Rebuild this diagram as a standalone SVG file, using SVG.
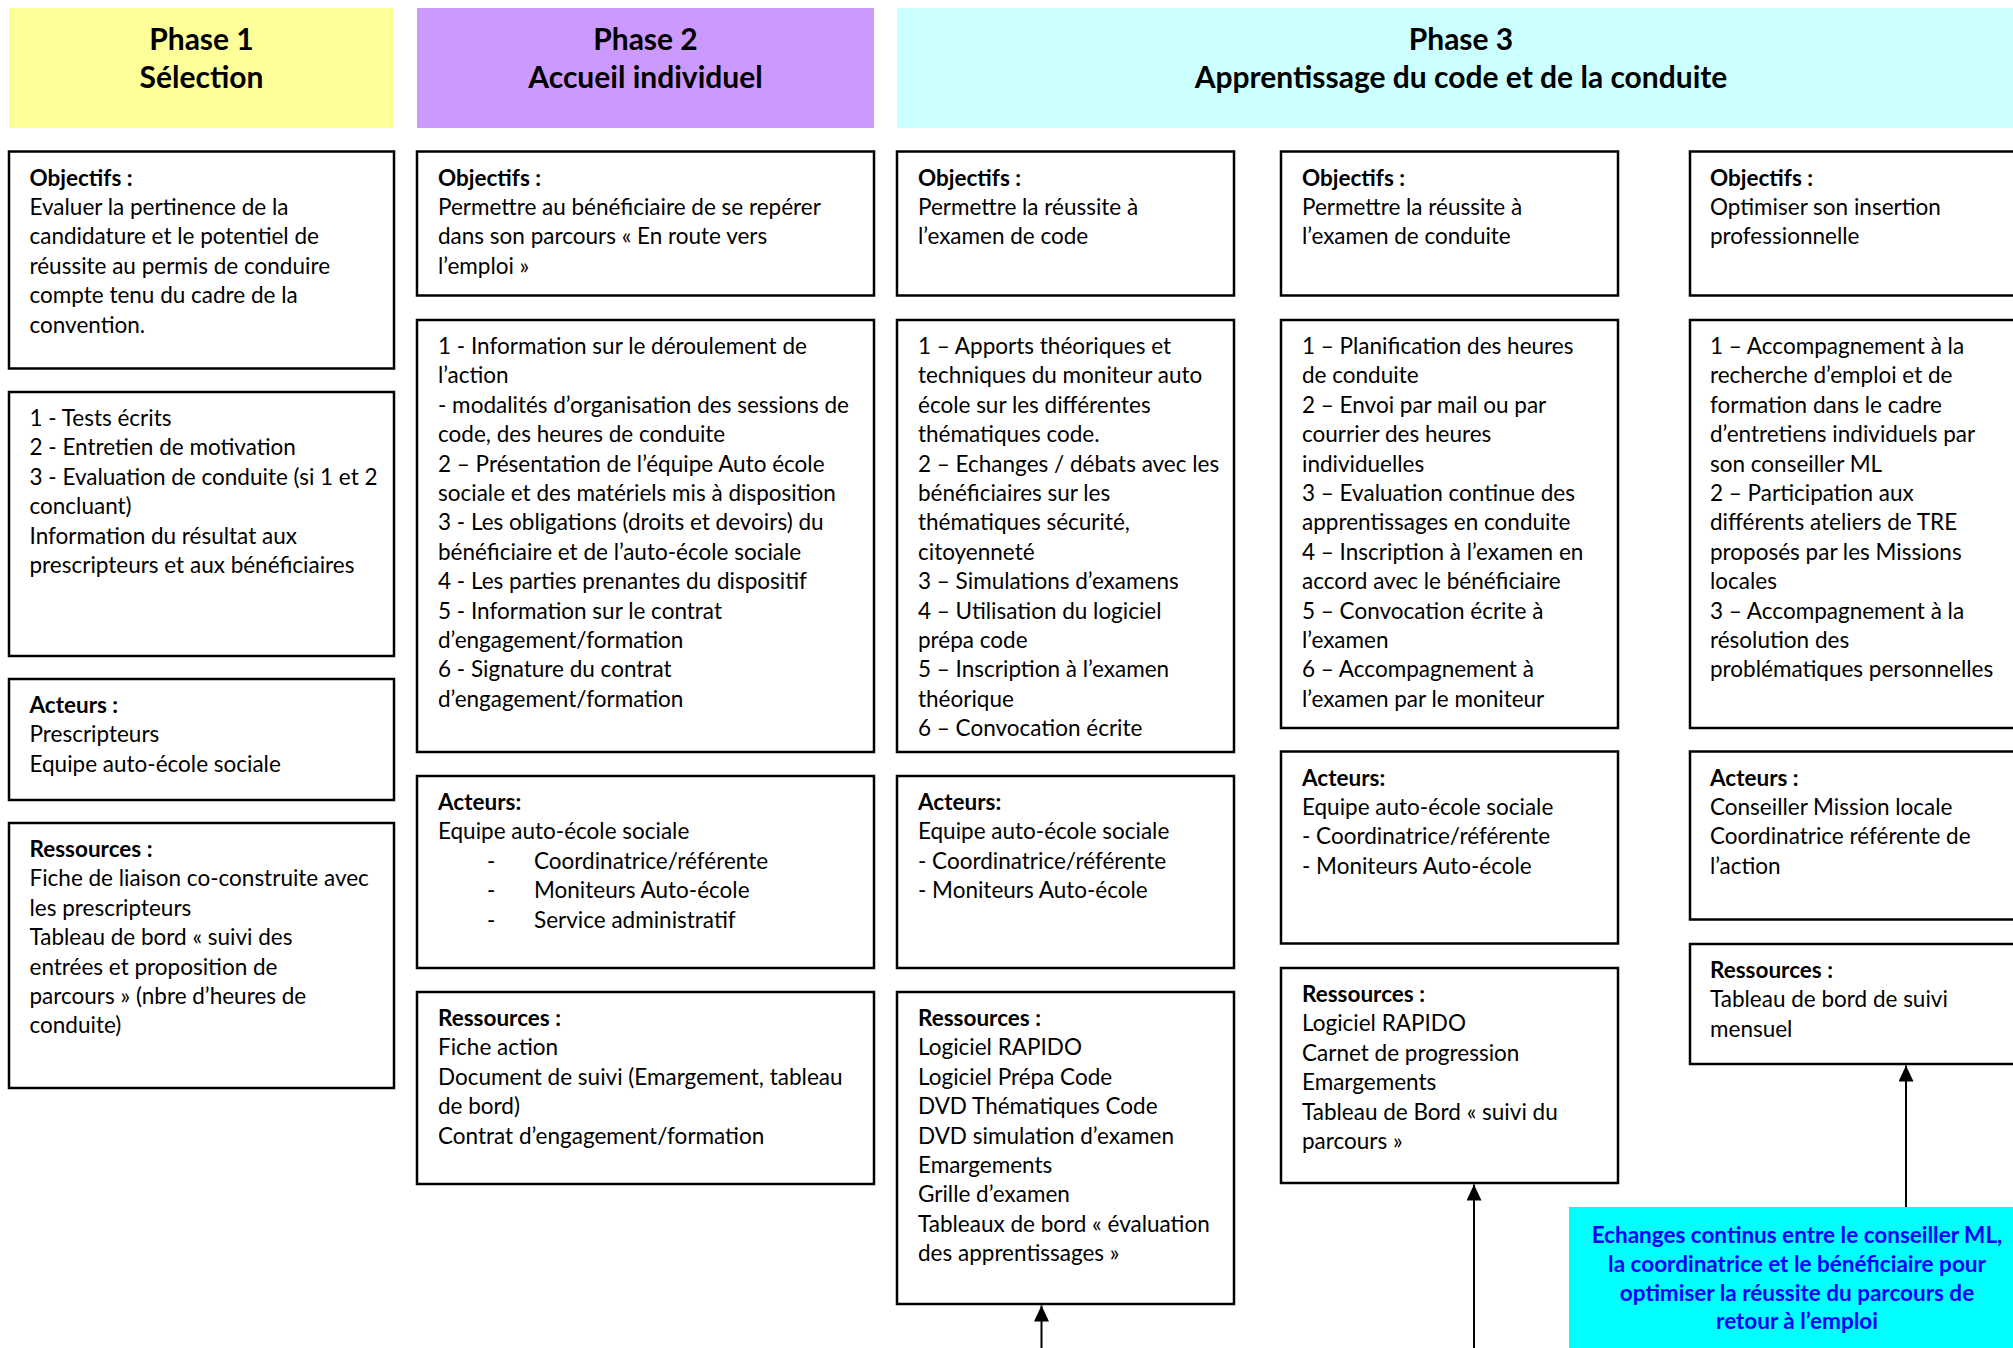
<svg xmlns="http://www.w3.org/2000/svg" width="2013" height="1348" viewBox="0 0 2013 1348">
<defs>
<style>
.box{fill:#fff;stroke:#000;stroke-width:2.5}
.t{font-family:Lato,"Liberation Sans",sans-serif;font-size:22.5px;fill:#000}
.b{font-weight:bold}
.h{font-family:Lato,"Liberation Sans",sans-serif;font-size:30px;font-weight:bold;fill:#000;text-anchor:middle}
.c{font-family:Lato,"Liberation Sans",sans-serif;font-size:22.5px;font-weight:bold;fill:#0000ff;text-anchor:middle}
.ln{stroke:#000;stroke-width:2;fill:none}
</style>
<marker id="ah" viewBox="0 0 16 15" refX="16" refY="7.5" markerWidth="16" markerHeight="15" markerUnits="userSpaceOnUse" orient="auto">
<path d="M0,0 L16,7.5 L0,15 Z" fill="#000"/>
</marker>
</defs>
<rect width="2013" height="1348" fill="#fff"/>

<g id="phase1">
<rect x="9" y="8" width="385" height="120" fill="#ffff99"/>
<text class="h"><tspan x="201.5" y="49.5">Phase 1</tspan><tspan x="201.5" y="87.5">Sélection</tspan></text>
</g>
<g id="phase2">
<rect x="417" y="8" width="457" height="120" fill="#cc99ff"/>
<text class="h"><tspan x="645.5" y="49.5">Phase 2</tspan><tspan x="645.5" y="87.5">Accueil individuel</tspan></text>
</g>
<g id="phase3">
<rect x="897" y="8" width="1130" height="120" fill="#ccffff"/>
<text class="h"><tspan x="1461" y="49.5">Phase 3</tspan><tspan x="1461" y="87.5">Apprentissage du code et de la conduite</tspan></text>
</g>

<!-- Column 1 -->
<g id="p1-objectifs">
<rect class="box" x="9" y="151.5" width="385" height="217"/>
<text class="t"><tspan x="29.5" y="185.5" class="b">Objectifs :</tspan><tspan x="29.5" dy="29.4">Evaluer la pertinence de la</tspan><tspan x="29.5" dy="29.4">candidature et le potentiel de</tspan><tspan x="29.5" dy="29.4">réussite au permis de conduire</tspan><tspan x="29.5" dy="29.4">compte tenu du cadre de la</tspan><tspan x="29.5" dy="29.4">convention.</tspan></text>
</g>
<g id="p1-actions">
<rect class="box" x="9" y="392" width="385" height="264"/>
<text class="t"><tspan x="29.5" y="426">1 - Tests écrits</tspan><tspan x="29.5" dy="29.4">2 - Entretien de motivation</tspan><tspan x="29.5" dy="29.4">3 - Evaluation de conduite (si 1 et 2</tspan><tspan x="29.5" dy="29.4">concluant)</tspan><tspan x="29.5" dy="29.4">Information du résultat aux</tspan><tspan x="29.5" dy="29.4">prescripteurs et aux bénéficiaires</tspan></text>
</g>
<g id="p1-acteurs">
<rect class="box" x="9" y="679" width="385" height="121"/>
<text class="t"><tspan x="29.5" y="713" class="b">Acteurs :</tspan><tspan x="29.5" dy="29.4">Prescripteurs</tspan><tspan x="29.5" dy="29.4">Equipe auto-école sociale</tspan></text>
</g>
<g id="p1-ressources">
<rect class="box" x="9" y="823" width="385" height="265"/>
<text class="t"><tspan x="29.5" y="857" class="b">Ressources :</tspan><tspan x="29.5" dy="29.4">Fiche de liaison co-construite avec</tspan><tspan x="29.5" dy="29.4">les prescripteurs</tspan><tspan x="29.5" dy="29.4">Tableau de bord « suivi des</tspan><tspan x="29.5" dy="29.4">entrées et proposition de</tspan><tspan x="29.5" dy="29.4">parcours » (nbre d’heures de</tspan><tspan x="29.5" dy="29.4">conduite)</tspan></text>
</g>

<!-- Column 2 -->
<g id="p2-objectifs">
<rect class="box" x="417" y="151.5" width="457" height="144"/>
<text class="t"><tspan x="438" y="185.5" class="b">Objectifs :</tspan><tspan x="438" dy="29.4">Permettre au bénéficiaire de se repérer</tspan><tspan x="438" dy="29.4">dans son parcours « En route vers</tspan><tspan x="438" dy="29.4">l’emploi »</tspan></text>
</g>
<g id="p2-actions">
<rect class="box" x="417" y="320" width="457" height="432"/>
<text class="t"><tspan x="438" y="354">1 - Information sur le déroulement de</tspan><tspan x="438" dy="29.4">l’action</tspan><tspan x="438" dy="29.4">- modalités d’organisation des sessions de</tspan><tspan x="438" dy="29.4">code, des heures de conduite</tspan><tspan x="438" dy="29.4">2 – Présentation de l’équipe Auto école</tspan><tspan x="438" dy="29.4">sociale et des matériels mis à disposition</tspan><tspan x="438" dy="29.4">3 - Les obligations (droits et devoirs) du</tspan><tspan x="438" dy="29.4">bénéficiaire et de l’auto-école sociale</tspan><tspan x="438" dy="29.4">4 - Les parties prenantes du dispositif</tspan><tspan x="438" dy="29.4">5 - Information sur le contrat</tspan><tspan x="438" dy="29.4">d’engagement/formation</tspan><tspan x="438" dy="29.4">6 - Signature du contrat</tspan><tspan x="438" dy="29.4">d’engagement/formation</tspan></text>
</g>
<g id="p2-acteurs">
<rect class="box" x="417" y="776" width="457" height="192"/>
<text class="t"><tspan x="438" y="810" class="b">Acteurs:</tspan><tspan x="438" dy="29.4">Equipe auto-école sociale</tspan><tspan x="487" dy="29.4">-</tspan><tspan x="534">Coordinatrice/référente</tspan><tspan x="487" dy="29.4">-</tspan><tspan x="534">Moniteurs Auto-école</tspan><tspan x="487" dy="29.4">-</tspan><tspan x="534">Service administratif</tspan></text>
</g>
<g id="p2-ressources">
<rect class="box" x="417" y="992" width="457" height="192"/>
<text class="t"><tspan x="438" y="1026" class="b">Ressources :</tspan><tspan x="438" dy="29.4">Fiche action</tspan><tspan x="438" dy="29.4">Document de suivi (Emargement, tableau</tspan><tspan x="438" dy="29.4">de bord)</tspan><tspan x="438" dy="29.4">Contrat d’engagement/formation</tspan></text>
</g>

<!-- Column 3 -->
<g id="p3a-objectifs">
<rect class="box" x="897" y="151.5" width="337" height="144"/>
<text class="t"><tspan x="918" y="185.5" class="b">Objectifs :</tspan><tspan x="918" dy="29.4">Permettre la réussite à</tspan><tspan x="918" dy="29.4">l’examen de code</tspan></text>
</g>
<g id="p3a-actions">
<rect class="box" x="897" y="320" width="337" height="432"/>
<text class="t"><tspan x="918" y="354">1 – Apports théoriques et</tspan><tspan x="918" dy="29.4">techniques du moniteur auto</tspan><tspan x="918" dy="29.4">école sur les différentes</tspan><tspan x="918" dy="29.4">thématiques code.</tspan><tspan x="918" dy="29.4">2 – Echanges / débats avec les</tspan><tspan x="918" dy="29.4">bénéficiaires sur les</tspan><tspan x="918" dy="29.4">thématiques sécurité,</tspan><tspan x="918" dy="29.4">citoyenneté</tspan><tspan x="918" dy="29.4">3 – Simulations d’examens</tspan><tspan x="918" dy="29.4">4 – Utilisation du logiciel</tspan><tspan x="918" dy="29.4">prépa code</tspan><tspan x="918" dy="29.4">5 – Inscription à l’examen</tspan><tspan x="918" dy="29.4">théorique</tspan><tspan x="918" dy="29.4">6 – Convocation écrite</tspan></text>
</g>
<g id="p3a-acteurs">
<rect class="box" x="897" y="776" width="337" height="192"/>
<text class="t"><tspan x="918" y="810" class="b">Acteurs:</tspan><tspan x="918" dy="29.4">Equipe auto-école sociale</tspan><tspan x="918" dy="29.4">- Coordinatrice/référente</tspan><tspan x="918" dy="29.4">- Moniteurs Auto-école</tspan></text>
</g>
<g id="p3a-ressources">
<rect class="box" x="897" y="992" width="337" height="312"/>
<text class="t"><tspan x="918" y="1026" class="b">Ressources :</tspan><tspan x="918" dy="29.4">Logiciel RAPIDO</tspan><tspan x="918" dy="29.4">Logiciel Prépa Code</tspan><tspan x="918" dy="29.4">DVD Thématiques Code</tspan><tspan x="918" dy="29.4">DVD simulation d’examen</tspan><tspan x="918" dy="29.4">Emargements</tspan><tspan x="918" dy="29.4">Grille d’examen</tspan><tspan x="918" dy="29.4">Tableaux de bord « évaluation</tspan><tspan x="918" dy="29.4">des apprentissages »</tspan></text>
</g>

<!-- Column 4 -->
<g id="p3b-objectifs">
<rect class="box" x="1281" y="151.5" width="337" height="144"/>
<text class="t"><tspan x="1302" y="185.5" class="b">Objectifs :</tspan><tspan x="1302" dy="29.4">Permettre la réussite à</tspan><tspan x="1302" dy="29.4">l’examen de conduite</tspan></text>
</g>
<g id="p3b-actions">
<rect class="box" x="1281" y="320" width="337" height="408"/>
<text class="t"><tspan x="1302" y="354">1 – Planification des heures</tspan><tspan x="1302" dy="29.4">de conduite</tspan><tspan x="1302" dy="29.4">2 – Envoi par mail ou par</tspan><tspan x="1302" dy="29.4">courrier des heures</tspan><tspan x="1302" dy="29.4">individuelles</tspan><tspan x="1302" dy="29.4">3 – Evaluation continue des</tspan><tspan x="1302" dy="29.4">apprentissages en conduite</tspan><tspan x="1302" dy="29.4">4 – Inscription à l’examen en</tspan><tspan x="1302" dy="29.4">accord avec le bénéficiaire</tspan><tspan x="1302" dy="29.4">5 – Convocation écrite à</tspan><tspan x="1302" dy="29.4">l’examen</tspan><tspan x="1302" dy="29.4">6 – Accompagnement à</tspan><tspan x="1302" dy="29.4">l’examen par le moniteur</tspan></text>
</g>
<g id="p3b-acteurs">
<rect class="box" x="1281" y="751.5" width="337" height="192"/>
<text class="t"><tspan x="1302" y="785.5" class="b">Acteurs:</tspan><tspan x="1302" dy="29.4">Equipe auto-école sociale</tspan><tspan x="1302" dy="29.4">- Coordinatrice/référente</tspan><tspan x="1302" dy="29.4">- Moniteurs Auto-école</tspan></text>
</g>
<g id="p3b-ressources">
<rect class="box" x="1281" y="968" width="337" height="215"/>
<text class="t"><tspan x="1302" y="1002" class="b">Ressources :</tspan><tspan x="1302" dy="29.4">Logiciel RAPIDO</tspan><tspan x="1302" dy="29.4">Carnet de progression</tspan><tspan x="1302" dy="29.4">Emargements</tspan><tspan x="1302" dy="29.4">Tableau de Bord « suivi du</tspan><tspan x="1302" dy="29.4">parcours »</tspan></text>
</g>

<!-- Column 5 -->
<g id="p3c-objectifs">
<rect class="box" x="1690" y="151.5" width="340" height="144"/>
<text class="t"><tspan x="1710" y="185.5" class="b">Objectifs :</tspan><tspan x="1710" dy="29.4">Optimiser son insertion</tspan><tspan x="1710" dy="29.4">professionnelle</tspan></text>
</g>
<g id="p3c-actions">
<rect class="box" x="1690" y="320" width="340" height="408"/>
<text class="t"><tspan x="1710" y="354">1 – Accompagnement à la</tspan><tspan x="1710" dy="29.4">recherche d’emploi et de</tspan><tspan x="1710" dy="29.4">formation dans le cadre</tspan><tspan x="1710" dy="29.4">d’entretiens individuels par</tspan><tspan x="1710" dy="29.4">son conseiller ML</tspan><tspan x="1710" dy="29.4">2 – Participation aux</tspan><tspan x="1710" dy="29.4">différents ateliers de TRE</tspan><tspan x="1710" dy="29.4">proposés par les Missions</tspan><tspan x="1710" dy="29.4">locales</tspan><tspan x="1710" dy="29.4">3 – Accompagnement à la</tspan><tspan x="1710" dy="29.4">résolution des</tspan><tspan x="1710" dy="29.4">problématiques personnelles</tspan></text>
</g>
<g id="p3c-acteurs">
<rect class="box" x="1690" y="751.5" width="340" height="168"/>
<text class="t"><tspan x="1710" y="785.5" class="b">Acteurs :</tspan><tspan x="1710" dy="29.4">Conseiller Mission locale</tspan><tspan x="1710" dy="29.4">Coordinatrice référente de</tspan><tspan x="1710" dy="29.4">l’action</tspan></text>
</g>
<g id="p3c-ressources">
<rect class="box" x="1690" y="944" width="340" height="120"/>
<text class="t"><tspan x="1710" y="978" class="b">Ressources :</tspan><tspan x="1710" dy="29.4">Tableau de bord de suivi</tspan><tspan x="1710" dy="29.4">mensuel</tspan></text>
</g>

<g id="echanges">
<rect x="1569" y="1207" width="460" height="150" fill="#00ffff"/>
<text class="c"><tspan x="1797" y="1243">Echanges continus entre le conseiller ML,</tspan><tspan x="1797" dy="28.8">la coordinatrice et le bénéficiaire pour</tspan><tspan x="1797" dy="28.8">optimiser la réussite du parcours de</tspan><tspan x="1797" dy="28.8">retour à l’emploi</tspan></text>
</g>

<g id="connectors">
<line class="ln" x1="1041.5" y1="1350" x2="1041.5" y2="1305.5" marker-end="url(#ah)"/>
<line class="ln" x1="1474" y1="1350" x2="1474" y2="1184.5" marker-end="url(#ah)"/>
<line class="ln" x1="1906" y1="1207" x2="1906" y2="1065.5" marker-end="url(#ah)"/>
</g>
</svg>
